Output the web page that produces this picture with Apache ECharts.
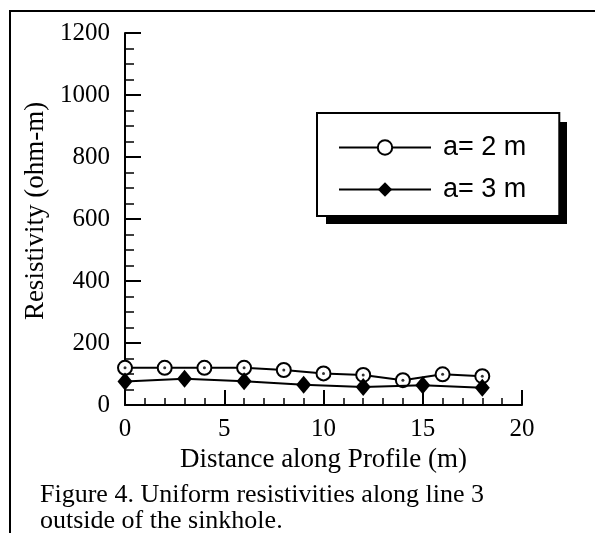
<!DOCTYPE html>
<html>
<head>
<meta charset="utf-8">
<script src="https://cdn.jsdelivr.net/npm/echarts@6/dist/echarts.min.js"></script>
<style>
html,body{margin:0;padding:0;background:#fff;}
#chart{width:595px;height:533px;}
</style>
</head>
<body>
<div id="chart"></div>
<script>
// Data
var seriesNames = ['a= 2 m', 'a= 3 m'];
var xA2 = [0, 2, 4, 6, 8, 10, 12, 14, 16, 18];
var yA2 = [120, 120, 120, 120, 113, 102, 97, 80, 99, 93];
var xA3 = [0, 3, 6, 9, 12, 15, 18];
var yA3 = [76, 85, 77, 65, 58, 64, 56];
var xTicks = [0, 5, 10, 15, 20];
var yTicks = [0, 200, 400, 600, 800, 1000, 1200];
var xTitle = 'Distance along Profile (m)';
var yTitle = 'Resistivity (ohm-m)';
var caption = 'Figure 4. Uniform resistivities along line 3\noutside of the sinkhole.';

function pairs(xs, ys) { return xs.map(function (x, i) { return [x, ys[i]]; }); }

var serif = "'Liberation Serif','Times New Roman',serif";
var sans = "'Liberation Sans',Arial,sans-serif";

var chart = echarts.init(document.getElementById('chart'), null, {renderer: 'canvas'});
chart.setOption({
  backgroundColor: '#fff',
  animation: false,
  grid: {left: 125, right: 73, top: 33, bottom: 128, containLabel: false},
  title: {
    text: caption, left: 40, top: 482, padding: 0,
    textStyle: {fontFamily: serif, fontSize: 26, fontWeight: 'normal', lineHeight: 26, color: '#000'}
  },
  legend: {
    orient: 'vertical', left: 317, top: 113, z: 6,
    data: seriesNames,
    itemWidth: 92, itemHeight: 18, itemGap: 15,
    padding: [21, 33, 13, 21],
    backgroundColor: '#fff', borderColor: '#000', borderWidth: 2, borderRadius: 0,
    textStyle: {fontFamily: sans, fontSize: 27, color: '#000', lineHeight: 25, padding: [0, 0, 0, 7]},
    selectedMode: false
  },
  xAxis: {
    type: 'value', min: xTicks[0], max: xTicks[xTicks.length - 1], interval: 5,
    axisLine: {lineStyle: {color: '#000', width: 2}},
    axisTick: {inside: true, length: 15, lineStyle: {color: '#000', width: 2}},
    minorTick: {show: true, splitNumber: 5, length: 7, lineStyle: {color: '#000', width: 1.5}},
    splitLine: {show: false},
    axisLabel: {fontFamily: serif, fontSize: 25, color: '#000', margin: 12, formatter: function (v) { return String(v); }},
    name: xTitle, nameLocation: 'middle', nameGap: 41,
    nameTextStyle: {fontFamily: serif, fontSize: 27, color: '#000'}
  },
  yAxis: {
    type: 'value', min: yTicks[0], max: yTicks[yTicks.length - 1], interval: 200,
    axisLine: {lineStyle: {color: '#000', width: 2}},
    axisTick: {inside: true, length: 16, lineStyle: {color: '#000', width: 2}},
    minorTick: {show: true, splitNumber: 4, length: 9, lineStyle: {color: '#000', width: 1.5}},
    splitLine: {show: false},
    axisLabel: {fontFamily: serif, fontSize: 25, color: '#000', margin: 15, padding: [0, 0, 10, 0],
      formatter: function (v) { return String(v); }},
    name: yTitle, nameLocation: 'middle', nameGap: 70, nameRotate: 90,
    nameTextStyle: {fontFamily: serif, fontSize: 27, color: '#000', padding: [0, 0, 0, 16]}
  },
  series: [
    {
      name: seriesNames[0], type: 'line', data: pairs(xA2, yA2),
      symbol: 'circle', symbolSize: 14, showAllSymbol: true,
      lineStyle: {color: '#000', width: 2},
      itemStyle: {color: '#fff', borderColor: '#000', borderWidth: 2},
      z: 2
    },
    {
      name: 'a2dots', type: 'scatter', data: pairs(xA2, yA2),
      symbol: 'circle', symbolSize: 3, itemStyle: {color: '#000'}, z: 3, silent: true
    },
    {
      name: seriesNames[1], type: 'line', data: pairs(xA3, yA3),
      symbol: 'diamond', symbolSize: [15, 18], showAllSymbol: true,
      lineStyle: {color: '#000', width: 2},
      itemStyle: {color: '#000', borderColor: '#000', borderWidth: 0},
      z: 4
    }
  ],
  graphic: [
    {
      type: 'polyline', silent: true, z: 1,
      shape: {points: [[10, 533], [10, 11], [595, 11]]},
      style: {stroke: '#000', lineWidth: 2, fill: null}
    },
    {
      type: 'rect', silent: true, z: 1,
      shape: {x: 326, y: 122, width: 241, height: 102},
      style: {fill: '#000'}
    }
  ]
});
</script>
</body>
</html>
